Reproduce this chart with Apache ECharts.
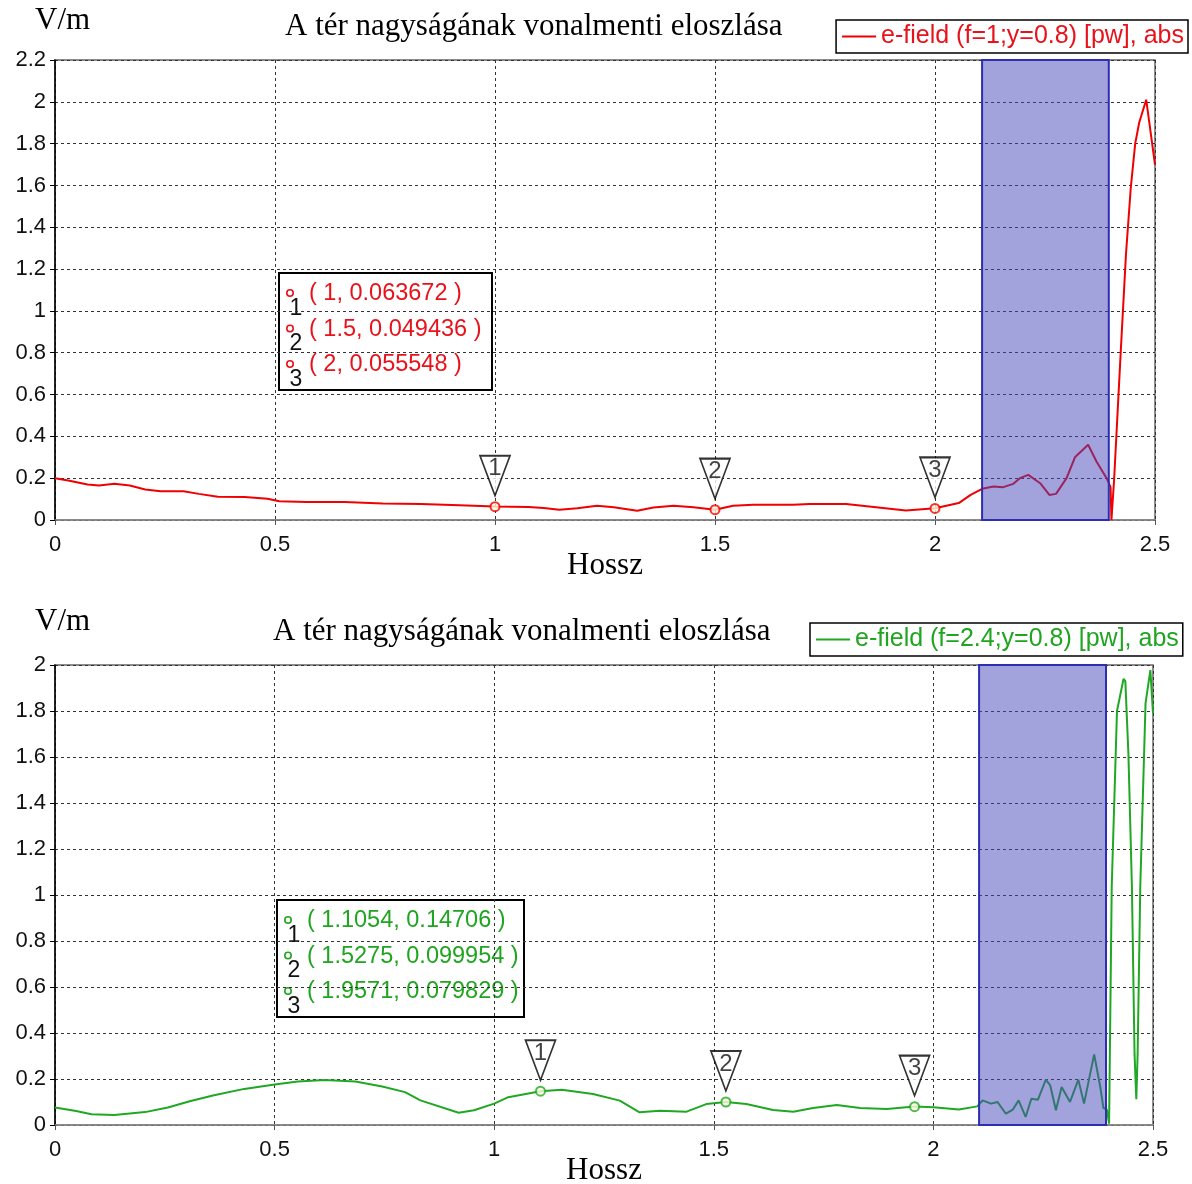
<!DOCTYPE html>
<html>
<head>
<meta charset="utf-8">
<script src="https://cdn.jsdelivr.net/npm/echarts@6/dist/echarts.min.js"></script>
<style>
  html, body { margin: 0; padding: 0; background: #fff; }
  #chart { width: 1192px; height: 1184px; }
</style>
</head>
<body>
<div id="chart"></div>
<script>
// upper plot: f=1
const redX = [
  0, 0.03, 0.074, 0.1, 0.135, 0.17, 0.205, 0.24, 0.292, 0.327,
  0.37, 0.431, 0.483, 0.51, 0.571, 0.658, 0.745, 0.832, 0.919, 1.0,
  1.076, 1.111, 1.146, 1.187, 1.232, 1.27, 1.323, 1.36, 1.406, 1.451,
  1.5, 1.541, 1.587, 1.677, 1.715, 1.798, 1.866, 1.934, 2.0, 2.054,
  2.081, 2.107, 2.133, 2.155, 2.178, 2.193, 2.212, 2.239, 2.26, 2.275,
  2.299, 2.318, 2.348, 2.367, 2.39, 2.399, 2.401, 2.407, 2.422, 2.434,
  2.445, 2.455, 2.464, 2.48, 2.5
]
const redY = [
  0.2, 0.189, 0.17, 0.165, 0.173, 0.165, 0.146, 0.137, 0.137, 0.125,
  0.111, 0.11, 0.102, 0.09, 0.086, 0.086, 0.079, 0.076, 0.071, 0.064,
  0.062, 0.057, 0.049, 0.056, 0.068, 0.061, 0.044, 0.06, 0.068, 0.061,
  0.049, 0.068, 0.073, 0.073, 0.077, 0.076, 0.061, 0.045, 0.056, 0.081,
  0.12, 0.149, 0.16, 0.157, 0.173, 0.2, 0.216, 0.176, 0.12, 0.125,
  0.2, 0.3, 0.36, 0.28, 0.2, 0.157, 0, 0.19, 0.8, 1.27,
  1.59, 1.8, 1.9, 2.01, 1.7
]
const redMarkX = [1, 1.5, 2]
const redMarkY = [0.063672, 0.049436, 0.055548]

// lower plot: f=2.4
const greenX = [
  0, 0.048, 0.083, 0.135, 0.205, 0.257, 0.309, 0.362, 0.431, 0.5,
  0.553, 0.614, 0.684, 0.745, 0.797, 0.832, 0.919, 0.954, 1.0, 1.032,
  1.1054, 1.154, 1.225, 1.286, 1.331, 1.377, 1.438, 1.483, 1.5275, 1.574,
  1.635, 1.681, 1.726, 1.78, 1.833, 1.894, 1.9571, 2.0, 2.058, 2.1,
  2.112, 2.131, 2.146, 2.165, 2.181, 2.194, 2.21, 2.223, 2.238, 2.256,
  2.266, 2.279, 2.292, 2.311, 2.33, 2.343, 2.366, 2.38, 2.387, 2.395,
  2.4, 2.406, 2.418, 2.433, 2.437, 2.444, 2.452, 2.458, 2.462, 2.465,
  2.471, 2.483, 2.494, 2.5
]
const greenY = [
  0.076, 0.061, 0.047, 0.044, 0.056, 0.076, 0.104, 0.129, 0.157, 0.176,
  0.189, 0.196, 0.189, 0.167, 0.143, 0.107, 0.053, 0.064, 0.093, 0.121,
  0.147, 0.153, 0.135, 0.106, 0.055, 0.062, 0.058, 0.091, 0.1, 0.091,
  0.065, 0.058, 0.074, 0.087, 0.074, 0.07, 0.08, 0.077, 0.067, 0.081,
  0.107, 0.093, 0.1, 0.049, 0.067, 0.107, 0.035, 0.114, 0.11, 0.197,
  0.172, 0.064, 0.165, 0.1, 0.197, 0.093, 0.307, 0.165, 0.075, 0.067,
  0.006, 1.034, 1.8, 1.94, 1.93, 1.615, 1.034, 0.308, 0.112, 0.308,
  1.034, 1.833, 1.978, 1.79
]
const greenMarkX = [1.1054, 1.5275, 1.9571]
const greenMarkY = [0.14706, 0.099954, 0.079829]

const bandTop = [2.107, 2.395]
const bandBottom = [2.104, 2.393]

const RED = '#f00000'
const RED_TEXT = '#e8121b'
const GREEN = '#20a824'
const GREEN_TEXT = '#1fa51f'
const RED_NAME = 'e-field (f=1;y=0.8) [pw], abs'
const GREEN_NAME = 'e-field (f=2.4;y=0.8) [pw], abs'
const TITLE = 'A tér nagyságának vonalmenti eloszlása'
const SANS = '"Liberation Sans", Arial, sans-serif'
const SERIF = '"Liberation Serif", "Times New Roman", serif'

const zip = (xs, ys) => xs.map((x, i) => [x, ys[i]])

const xAxisOf = (gridIndex) => ({
  gridIndex,
  type: 'value',
  min: 0,
  max: 2.5,
  interval: 0.5,
  name: 'Hossz',
  nameLocation: 'middle',
  nameGap: 30,
  nameMoveOverlap: false,
  nameTextStyle: { fontFamily: SERIF, fontSize: 31, color: '#000', verticalAlign: 'top' },
  axisLine: { show: true, onZero: false, lineStyle: { color: '#8a8a8a', width: 1.5 } },
  axisTick: { show: true, length: 5, lineStyle: { color: '#555' } },
  axisLabel: { fontFamily: SANS, fontSize: 22, color: '#111', margin: 14 },
  splitLine: { show: true, lineStyle: { color: '#333', type: [3, 3], width: 1 } }
})

const yAxisOf = (gridIndex, max, nameGap) => ({
  gridIndex,
  type: 'value',
  min: 0,
  max,
  interval: 0.2,
  name: 'V/m',
  nameLocation: 'end',
  nameGap,
  nameTextStyle: { fontFamily: SERIF, fontSize: 31, color: '#000', align: 'left', padding: [0, 0, 0, -20] },
  axisLine: { show: true, lineStyle: { color: '#000', width: 1.5 } },
  axisTick: { show: true, length: 5, lineStyle: { color: '#000' } },
  axisLabel: { fontFamily: SANS, fontSize: 22, color: '#111', margin: 9 },
  splitLine: { show: true, lineStyle: { color: '#333', type: [3, 3], width: 1 } }
})

const legendOf = (name, color, pos) => ({
  ...pos,
  orient: 'horizontal',
  data: [{ name, icon: 'rect', textStyle: { color } }],
  itemWidth: 34,
  itemHeight: 2,
  itemGap: 6,
  padding: [4, 4, 4, 6],
  borderColor: '#000',
  borderWidth: 1.5,
  backgroundColor: '#fff',
  textStyle: { fontFamily: SANS, fontSize: 25 },
  selectedMode: false,
  z: 10
})

// box listing the marker coordinates
const markerBox = (x, y, width, xs, ys, color) => {
  const children = [{
    type: 'rect',
    shape: { x: 0, y: 0, width, height: 117 },
    style: { fill: '#fff', stroke: '#000', lineWidth: 2 }
  }]
  xs.forEach((v, i) => {
    const cy = 21 + i * 35.5
    children.push({
      type: 'circle',
      shape: { cx: 11, cy: cy - 1, r: 3.2 },
      style: { fill: '#fff', stroke: color, lineWidth: 1.6 }
    })
    children.push({
      type: 'text', x: 17, y: cy + 3,
      style: { text: String(i + 1), fill: '#111', font: '23px ' + SANS, align: 'center', verticalAlign: 'top' }
    })
    children.push({
      type: 'text', x: 30, y: cy,
      style: { text: '( ' + v + ', ' + ys[i] + ' )', fill: color, font: '23.5px ' + SANS, verticalAlign: 'middle' }
    })
  })
  return { type: 'group', x, y, children, z: 20 }
}

const lineSeries = (name, idx, xs, ys, color) => ({
  name,
  type: 'line',
  xAxisIndex: idx,
  yAxisIndex: idx,
  data: zip(xs, ys),
  showSymbol: false,
  symbol: 'none',
  lineStyle: { color, width: 2 },
  itemStyle: { color },
  z: 2
})

const bandSeries = (idx, band) => ({
  type: 'line',
  xAxisIndex: idx,
  yAxisIndex: idx,
  data: [[band[0], 0]],
  symbol: 'none',
  lineStyle: { opacity: 0 },
  silent: true,
  z: 5,
  markArea: {
    silent: true,
    z: 5,
    itemStyle: { color: 'rgba(70,70,188,0.5)', borderColor: '#2e2eb2', borderWidth: 2 },
    data: [[{ xAxis: band[0] }, { xAxis: band[1] }]]
  }
})

const pointSeries = (idx, xs, ys, color) => ({
  type: 'scatter',
  xAxisIndex: idx,
  yAxisIndex: idx,
  data: zip(xs, ys),
  symbol: 'circle',
  symbolSize: 9,
  itemStyle: { color: '#fffbe0', borderColor: color, borderWidth: 2 },
  silent: true,
  z: 6
})

const flagSeries = (idx, xs, ys) => ({
  type: 'scatter',
  xAxisIndex: idx,
  yAxisIndex: idx,
  data: xs.map((x, i) => [x, ys[i], i + 1]),
  symbol: 'path://M0,0L30,0L15,40Z',
  symbolSize: [30, 40],
  symbolOffset: [0, -31],
  itemStyle: { color: '#fff', borderColor: '#000', borderWidth: 1.8 },
  label: {
    show: true,
    position: 'inside',
    offset: [0, -7],
    formatter: (p) => String(p.value[2]),
    fontFamily: SANS,
    fontSize: 24,
    color: '#111'
  },
  silent: true,
  z: 7
})

const chart = echarts.init(document.getElementById('chart'))

chart.setOption({
  animation: false,
  backgroundColor: '#fff',
  title: [
    { text: TITLE, left: 280, top: 6, textStyle: { fontFamily: SERIF, fontSize: 31, fontWeight: 'normal', color: '#000' } },
    { text: TITLE, left: 268, top: 611, textStyle: { fontFamily: SERIF, fontSize: 31, fontWeight: 'normal', color: '#000' } }
  ],
  legend: [
    legendOf(RED_NAME, RED_TEXT, { right: 4, top: 20 }),
    legendOf(GREEN_NAME, GREEN_TEXT, { left: 810, top: 623 })
  ],
  grid: [
    { left: 55, top: 60, width: 1100, height: 460, show: true, borderColor: '#666', borderWidth: 1.5, outerBoundsMode: 'none' },
    { left: 55, top: 665, width: 1098, height: 460, show: true, borderColor: '#666', borderWidth: 1.5, outerBoundsMode: 'none' }
  ],
  xAxis: [xAxisOf(0), xAxisOf(1)],
  yAxis: [yAxisOf(0, 2.2, 24), yAxisOf(1, 2, 28)],
  series: [
    lineSeries(RED_NAME, 0, redX, redY, RED),
    bandSeries(0, bandTop),
    pointSeries(0, redMarkX, redMarkY, RED),
    flagSeries(0, redMarkX, redMarkY),
    lineSeries(GREEN_NAME, 1, greenX, greenY, GREEN),
    bandSeries(1, bandBottom),
    pointSeries(1, greenMarkX, greenMarkY, GREEN),
    flagSeries(1, greenMarkX, greenMarkY)
  ],
  graphic: [
    markerBox(279, 273, 213, redMarkX, redMarkY, RED_TEXT),
    markerBox(277, 900, 247, greenMarkX, greenMarkY, GREEN_TEXT)
  ]
})
</script>
</body>
</html>
